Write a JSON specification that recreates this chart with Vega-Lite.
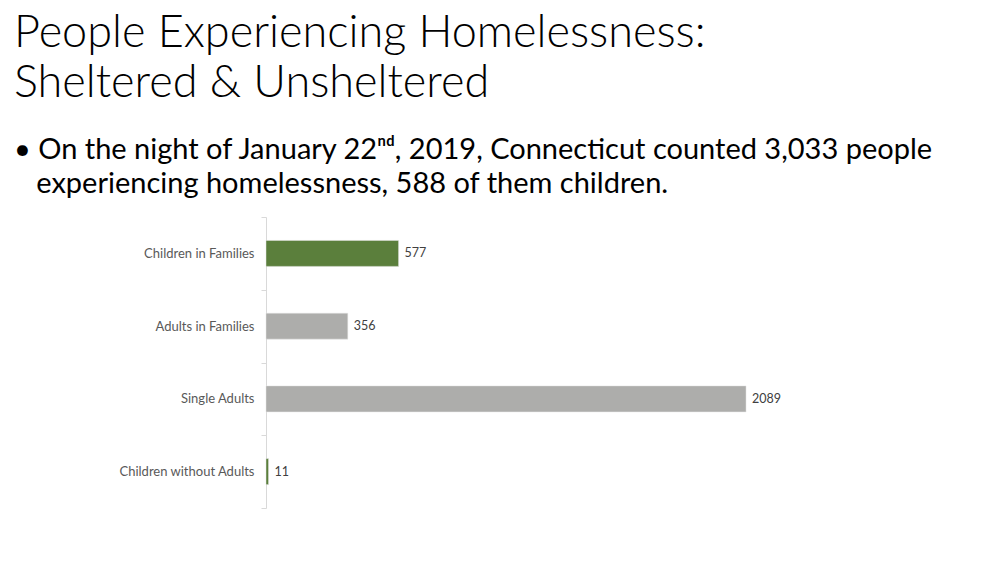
{
  "$schema": "https://vega.github.io/schema/vega-lite/v6.json",
  "autosize": "none",
  "width": 600,
  "height": 291,
  "padding": {"left": 266, "top": 217, "right": 134, "bottom": 55},
  "background": "white",
  "title": {
    "text": ["People Experiencing Homelessness:", "Sheltered & Unsheltered"],
    "subtitle": ["•\u00a0On the night of January 22ⁿᵈ, 2019, Connecticut counted 3,033 people", "\u200b\u00a0\u00a0\u00a0experiencing homelessness, 588 of them children."],
    "anchor": "start",
    "frame": "group",
    "dx": -252,
    "offset": 12,
    "font": "Lato",
    "fontSize": 45,
    "fontWeight": 300,
    "color": "#000000",
    "lineHeight": 50,
    "subtitleFont": "Lato",
    "subtitleFontSize": 29,
    "subtitleFontWeight": 400,
    "subtitleColor": "#000000",
    "subtitleLineHeight": 34,
    "subtitlePadding": 30
  },
  "data": {
    "values": [
      {"category": "Children in Families", "count": 577, "group": "Children"},
      {"category": "Adults in Families", "count": 356, "group": "Adults"},
      {"category": "Single Adults", "count": 2089, "group": "Adults"},
      {"category": "Children without Adults", "count": 11, "group": "Children"}
    ]
  },
  "encoding": {
    "y": {
      "field": "category",
      "type": "nominal",
      "sort": null,
      "scale": {"paddingInner": 0, "paddingOuter": 0},
      "axis": {
        "title": null,
        "labelFont": "Lato",
        "labelFontSize": 13,
        "labelColor": "#595959",
        "domainColor": "#d9d9d9",
        "tickColor": "#d9d9d9",
        "tickSize": 5,
        "tickBand": "extent",
        "labelPadding": 7
      }
    },
    "x": {
      "field": "count",
      "type": "quantitative",
      "scale": {"domain": [0, 2611], "nice": false},
      "axis": null
    }
  },
  "layer": [
    {
      "mark": {"type": "bar", "size": 26, "stroke": "#e6e6e6", "strokeWidth": 0.5},
      "encoding": {
        "color": {
          "field": "group",
          "type": "nominal",
          "scale": {"domain": ["Children", "Adults"], "range": ["#5b7f3c", "#adadab"]},
          "legend": null
        }
      }
    },
    {
      "mark": {"type": "text", "align": "left", "baseline": "middle", "dx": 6, "font": "Lato", "fontSize": 12.5, "color": "#404040"},
      "encoding": {"text": {"field": "count", "type": "quantitative"}}
    }
  ],
  "config": {"view": {"stroke": null}}
}
